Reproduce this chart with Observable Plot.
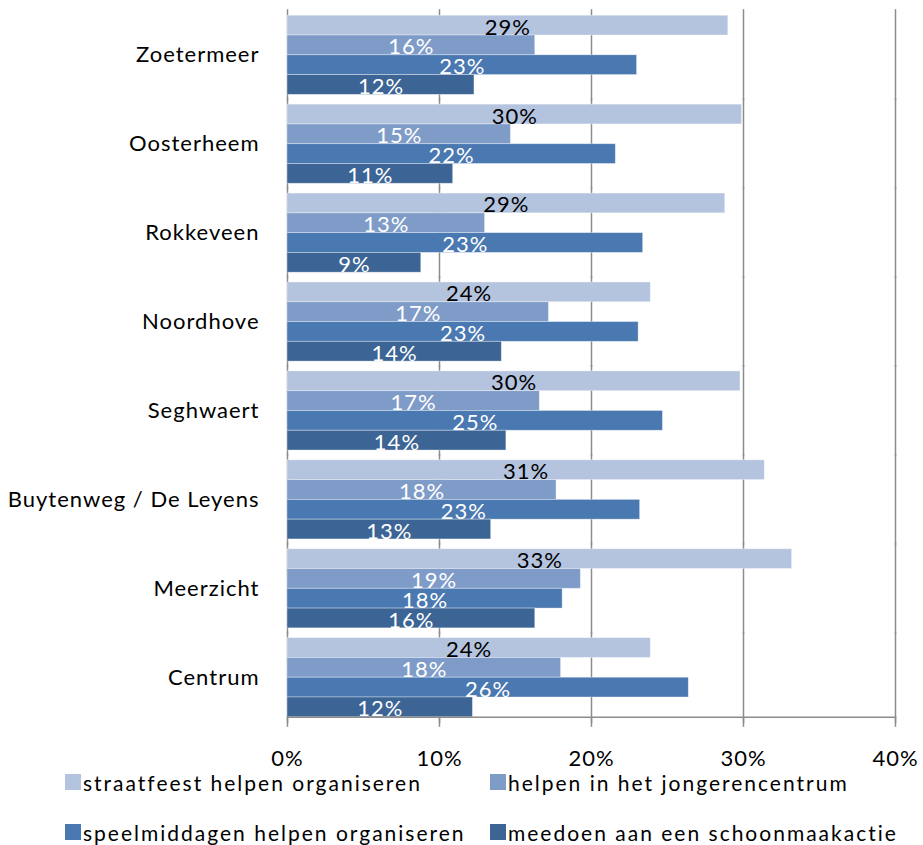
<!DOCTYPE html>
<html>
<head>
<meta charset="utf-8">
<script src="https://cdn.jsdelivr.net/npm/d3@7"></script>
<script src="https://cdn.jsdelivr.net/npm/@observablehq/plot@0.6"></script>
<style>
  body { margin: 0; background: #fff; font-family: Lato, "Open Sans", sans-serif; }
  #wrap { position: relative; width: 923px; height: 845px; }
  #wrap svg { position: absolute; left: 0; top: 0; }
  .leg { position: absolute; display: flex; align-items: center; font-size: 21px; letter-spacing: 2px; color: #000; white-space: nowrap; }
  .sw { width: 16px; height: 16px; margin-right: 2px; }
</style>
</head>
<body>
<div id="wrap"></div>
<script>
const categories = ["Zoetermeer", "Oosterheem", "Rokkeveen", "Noordhove", "Seghwaert", "Buytenweg / De Leyens", "Meerzicht", "Centrum"];
const seriesNames = ["straatfeest helpen organiseren", "helpen in het jongerencentrum", "speelmiddagen helpen organiseren", "meedoen aan een schoonmaakactie"];
const colors = ["#b4c3de", "#7f9cc9", "#4a78b1", "#3c6494"];
const straatfeest = [29.0, 29.9, 28.8, 23.9, 29.8, 31.4, 33.2, 23.9];
const jongerencentrum = [16.3, 14.7, 13.0, 17.2, 16.6, 17.7, 19.3, 18.0];
const speelmiddagen = [23.0, 21.6, 23.4, 23.1, 24.7, 23.2, 18.1, 26.4];
const schoonmaak = [12.3, 10.9, 8.8, 14.1, 14.4, 13.4, 16.3, 12.2];
const xTicks = [0, 10, 20, 30, 40];

const seriesValues = [straatfeest, jongerencentrum, speelmiddagen, schoonmaak];
const data = [];
categories.forEach((c, i) => {
  seriesNames.forEach((s, j) => {
    data.push({cat: c, series: s, idx: j, value: seriesValues[j][i]});
  });
});

const chart = Plot.plot({
  width: 923,
  height: 778,
  marginLeft: 287,
  marginRight: 28,
  marginTop: 13,
  marginBottom: 59,
  style: {fontFamily: "Lato, 'Open Sans', sans-serif", background: "transparent", letterSpacing: "1px"},
  x: {domain: [0, 40]},
  y: {domain: seriesNames, padding: 0, axis: null, round: false},
  fy: {domain: categories, paddingInner: 0.11, paddingOuter: 0.025, round: false},
  color: {domain: seriesNames, range: colors},
  marks: [
    Plot.ruleX(xTicks, {stroke: "#8c8c8c", strokeWidth: 1.5, insetTop: -6, insetBottom: -6}),
    Plot.barX(data, {x: "value", y: "series", fy: "cat", fill: "series", stroke: "#ffffff", strokeOpacity: 0.45, strokeWidth: 0.8}),
    Plot.text(data, {
      x: d => d.value / 2, y: "series", fy: "cat",
      text: d => Math.round(d.value) + "%",
      fill: d => d.idx === 0 ? "#000" : "#fff",
      fontSize: 22, dy: 2
    }),
    Plot.frame({anchor: "bottom", stroke: "#8c8c8c", strokeWidth: 1.5, facet: "super"}),
    Plot.axisX(xTicks, {tickSize: 10, tickPadding: 23, fontSize: 22, stroke: "#8c8c8c", strokeWidth: 1.5, tickFormat: d => d + "%", color: "#000", label: null}),
    Plot.axisFy({anchor: "left", tickSize: 0, tickPadding: 28, fontSize: 22, label: null, color: "#000"})
  ]
});

const wrap = document.getElementById("wrap");
wrap.appendChild(chart);

const legPos = [[65, 782], [490, 782], [65, 832], [490, 832]];
seriesNames.forEach((s, j) => {
  const el = document.createElement("div");
  el.className = "leg";
  el.style.left = legPos[j][0] + "px";
  el.style.top = (legPos[j][1] - 13) + "px";
  el.style.height = "26px";
  const sw = document.createElement("div");
  sw.className = "sw";
  sw.style.background = colors[j];
  el.appendChild(sw);
  const t = document.createElement("span");
  t.textContent = s;
  el.appendChild(t);
  wrap.appendChild(el);
});
</script>
</body>
</html>
